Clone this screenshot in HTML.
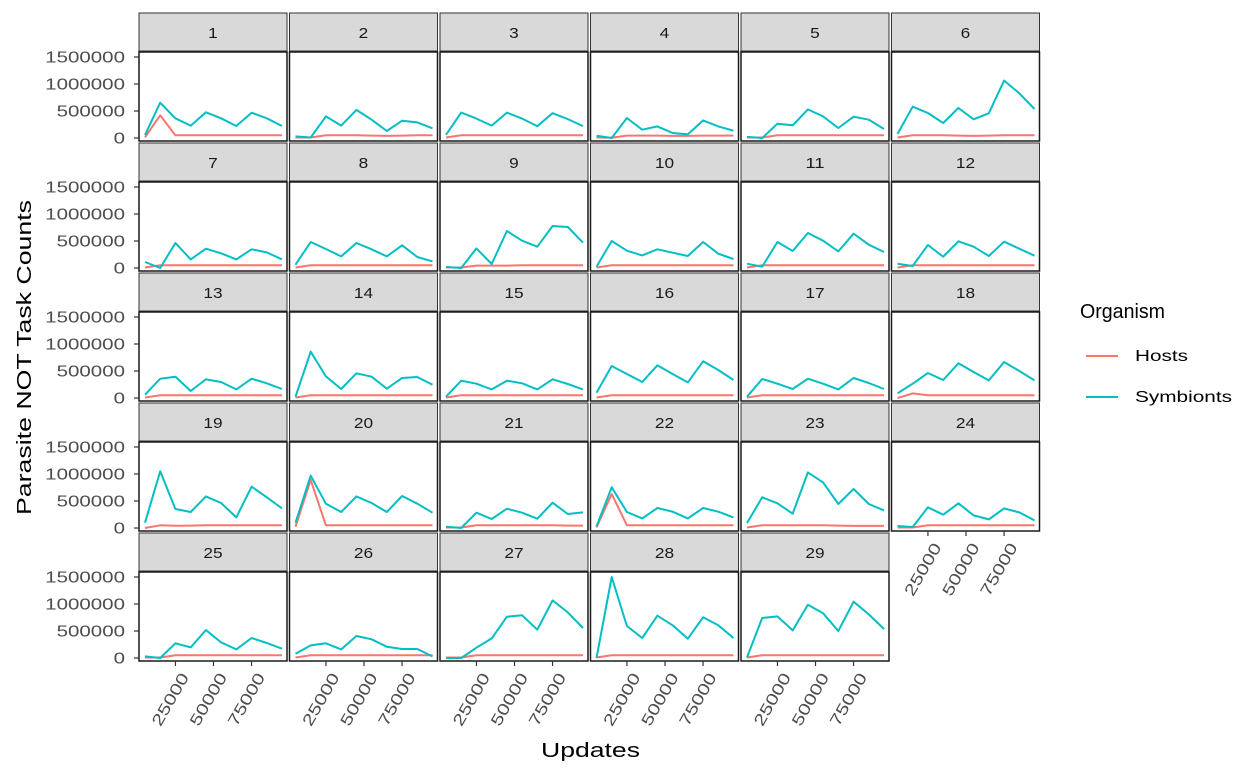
<!DOCTYPE html>
<html><head><meta charset="utf-8">
<style>
html,body{margin:0;padding:0;background:#fff;}
svg{display:block;font-family:"Liberation Sans",Arial,sans-serif;}
</style></head>
<body>
<svg id="chart" width="1259" height="778" viewBox="0 0 1259 778" xmlns="http://www.w3.org/2000/svg">
<rect width="1259" height="778" fill="#fff"/>
<text x="541" y="757" font-size="20" textLength="99" lengthAdjust="spacingAndGlyphs" fill="#000">Updates</text>
<text transform="translate(31,515) rotate(-90)" font-size="20" textLength="315" lengthAdjust="spacingAndGlyphs" fill="#000">Parasite NOT Task Counts</text>
<g>
<text x="1080" y="318" font-size="20" textLength="85" lengthAdjust="spacingAndGlyphs" fill="#000">Organism</text>
<line x1="1086" y1="356" x2="1118" y2="356" stroke="#F8766D" stroke-width="2"/>
<text x="1135" y="361" font-size="16" textLength="53" lengthAdjust="spacingAndGlyphs" fill="#000">Hosts</text>
<line x1="1086" y1="397" x2="1118" y2="397" stroke="#00BFC4" stroke-width="2"/>
<text x="1135" y="402" font-size="16" textLength="97" lengthAdjust="spacingAndGlyphs" fill="#000">Symbionts</text>
</g>
<g id="panels"></g>
</svg>
<script>
const updates = [5000,15000,25000,35000,45000,55000,65000,75000,85000,95000];
const xTicks = [25000,50000,75000];
const yTicks = [0,500000,1000000,1500000];
const yTickLabels = ["0","500000","1000000","1500000"];
// values in thousands
const symbionts = [
[56,654,365,228,476,365,222,469,365,222],
[30,10,400,230,520,340,130,320,290,180],
[60,470,360,230,470,360,220,460,350,220],
[43,0,370,154,216,93,68,327,216,136],
[20,0,265,235,530,400,185,395,340,167],
[74,580,463,278,555,346,457,1062,827,537],
[111,0,463,160,358,272,160,346,290,160],
[62,481,352,216,463,346,216,420,204,123],
[19,0,364,74,685,506,395,777,759,469],
[25,500,321,234,346,284,222,481,265,167],
[80,25,481,315,648,506,308,636,432,296],
[80,37,426,210,494,395,222,487,358,228],
[62,358,395,130,346,296,160,358,272,167],
[25,858,401,167,457,395,173,370,389,247],
[25,321,265,160,321,272,160,346,259,160],
[99,592,444,296,605,444,290,679,518,333],
[25,352,265,167,358,265,160,370,278,167],
[86,265,463,333,642,481,327,666,500,327],
[99,1049,352,296,586,463,197,765,568,364],
[99,969,450,296,586,463,296,592,450,284],
[25,0,284,167,358,284,173,469,259,290],
[31,753,296,179,370,302,179,370,302,197],
[93,568,457,265,1030,845,444,722,444,327],
[37,19,383,247,457,234,160,364,290,142],
[31,0,272,197,518,290,160,370,278,173],
[80,234,272,160,407,346,210,167,167,31],
[0,0,191,364,765,790,524,1067,845,555],
[0,1500,592,370,784,605,358,753,605,370],
[12,740,771,512,987,827,500,1043,808,537]
];
const hostsDefault = [10,50,50,50,50,50,50,50,50,50];
const hosts = [
[13,420,50,50,50,50,50,50,50,50],
[10,10,50,50,50,45,40,45,50,50],
hostsDefault,
[10,5,45,45,45,40,40,45,45,45],
[10,10,50,50,50,50,50,50,50,50],
[10,50,50,50,45,40,45,50,50,50],
hostsDefault,hostsDefault,
[10,10,45,45,45,50,50,50,50,50],
hostsDefault,hostsDefault,hostsDefault,hostsDefault,hostsDefault,hostsDefault,hostsDefault,hostsDefault,
[0,86,50,50,50,50,50,50,50,50],
[0,50,43,45,50,50,50,50,50,50],
[25,888,50,50,50,50,50,50,50,50],
[10,10,50,50,50,50,50,50,45,45],
[12,630,50,50,50,50,50,50,50,50],
[10,50,50,50,50,50,45,40,40,40],
[10,10,50,50,50,50,50,50,50,50],
[10,10,50,50,50,50,50,50,50,50],
[10,50,50,50,50,50,50,50,50,50],
[10,10,50,50,50,50,50,50,50,50],
hostsDefault,hostsDefault
];
const NS = "http://www.w3.org/2000/svg";
const root = document.getElementById('panels');
function mk(tag, attrs, parent){const e=document.createElementNS(NS,tag);for(const k in attrs)e.setAttribute(k,attrs[k]);parent.appendChild(e);return e;}
const PW=148, PH=89;
function xs(left,u){return left+6+(u-5000)/90000*137;}
function ys(top,v){return top+PH-((v+55000)/1647000)*PH;}
for(let i=0;i<29;i++){
  const c=i%6, r=Math.floor(i/6);
  const left=139+c*150.5, stripTop=13+r*130, top=stripTop+39;
  const g=mk('g',{},root);
  
  
  const strip=mk('rect',{x:left,y:stripTop,width:PW,height:38,fill:'#D9D9D9',stroke:'#333','stroke-width':1},g);
  
  
  const lbl=String(i+1);
  const st=mk('text',{x:left+PW/2-lbl.length*4.8,y:stripTop+25,'font-size':15,textLength:lbl.length*9.6,lengthAdjust:'spacingAndGlyphs',fill:'#1A1A1A'},g);
  st.textContent=lbl;
  
  
  mk('rect',{x:left,y:top,width:PW,height:PH,fill:'#fff'},g);
  const series=[[hosts[i],'#F8766D','hosts'],[symbionts[i],'#00BFC4','symbionts']];
  series.forEach(s=>{
    const pts=updates.map((u,k)=>xs(left,u).toFixed(1)+','+ys(top,s[0][k]*1000).toFixed(1)).join(' ');
    const pl=mk('polyline',{points:pts,fill:'none',stroke:s[1],'stroke-width':2,'stroke-linejoin':'round'},g);
    
    
  });
  const bd=mk('rect',{x:left,y:top,width:PW,height:PH,fill:'none',stroke:'#1A1A1A','stroke-width':1.5},g);
  
  
  if(c===0){
    yTicks.forEach((v,k)=>{
      const y=ys(top,v);
      mk('line',{x1:left-5,y1:y,x2:left,y2:y,stroke:'#333','stroke-width':1.2},g);
      const w=yTickLabels[k].length*11.4;
      const t=mk('text',{x:left-14-w,y:y+5.5,'font-size':16,textLength:w,lengthAdjust:'spacingAndGlyphs',fill:'#4D4D4D'},g);
      t.textContent=yTickLabels[k];
      
      
    });
  }
  if(r===4 || i===23){
    const bottom=top+PH;
    xTicks.forEach(u=>{
      const x=xs(left,u);
      mk('line',{x1:x,y1:bottom,x2:x,y2:bottom+5,stroke:'#333','stroke-width':1.2},g);
      const t=mk('text',{transform:'translate('+(x+14)+','+(bottom+16)+') rotate(-60)','font-size':16,'text-anchor':'end',textLength:58,lengthAdjust:'spacingAndGlyphs',fill:'#4D4D4D'},g);
      t.textContent=String(u);
      
      
    });
  }
}
</script>
</body></html>
